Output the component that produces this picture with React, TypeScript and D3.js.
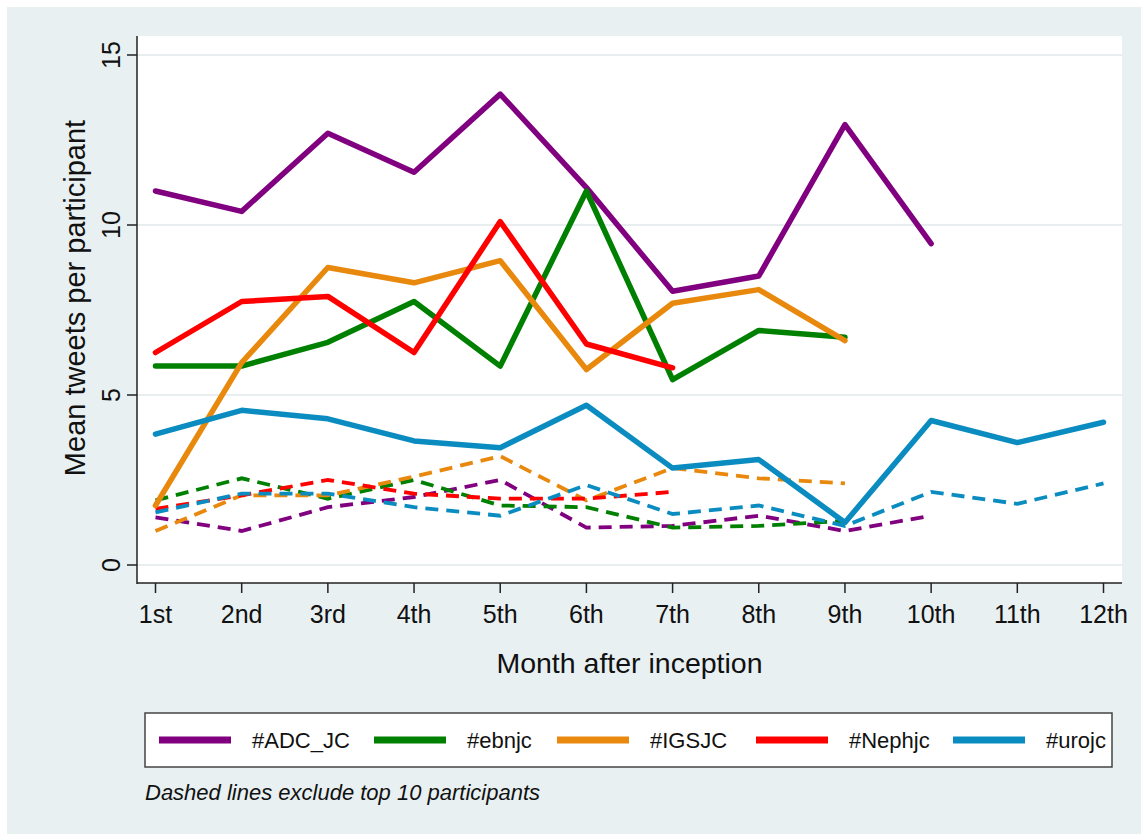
import React from "react";
import * as d3 from "d3";

// months after inception
const months = ["1st", "2nd", "3rd", "4th", "5th", "6th", "7th", "8th", "9th", "10th", "11th", "12th"];
const yTicks = [0, 5, 10, 15];

// solid lines: all participants
const adcSolid = [11.0, 10.4, 12.7, 11.55, 13.85, 11.1, 8.05, 8.5, 12.95, 9.45];
const ebnjcSolid = [5.85, 5.85, 6.55, 7.75, 5.85, 11.0, 5.45, 6.9, 6.7];
const igsjcSolid = [1.75, 5.95, 8.75, 8.3, 8.95, 5.75, 7.7, 8.1, 6.6];
const nephjcSolid = [6.25, 7.75, 7.9, 6.25, 10.1, 6.5, 5.8];
const urojcSolid = [3.85, 4.55, 4.3, 3.65, 3.45, 4.7, 2.85, 3.1, 1.25, 4.25, 3.6, 4.2];

// dashed lines: top 10 participants excluded
const adcDashed = [1.4, 1.0, 1.7, 2.0, 2.5, 1.1, 1.15, 1.45, 1.0, 1.45];
const ebnjcDashed = [1.9, 2.55, 1.95, 2.5, 1.75, 1.7, 1.1, 1.15, 1.3];
const igsjcDashed = [1.0, 2.05, 2.05, 2.6, 3.2, 1.9, 2.85, 2.55, 2.4];
const nephjcDashed = [1.65, 2.05, 2.5, 2.1, 1.95, 1.95, 2.15];
const urojcDashed = [1.55, 2.1, 2.1, 1.7, 1.45, 2.35, 1.5, 1.75, 1.15, 2.15, 1.8, 2.4];

const seriesNames = ["#ADC_JC", "#ebnjc", "#IGSJC", "#Nephjc", "#urojc"];
const colors = ["#800080", "#008000", "#e8890e", "#ff0000", "#0b8cc0"];
const solid = [adcSolid, ebnjcSolid, igsjcSolid, nephjcSolid, urojcSolid];
const dashed = [adcDashed, ebnjcDashed, igsjcDashed, nephjcDashed, urojcDashed];

const W = 1141;
const H = 834;
const plot = { left: 137, right: 1122, top: 36, bottom: 583 };
const font = "'Liberation Sans', Arial, Helvetica, sans-serif";

export default function App() {
  const x = d3.scaleLinear().domain([1, 12]).range([155.5, 1103.5]);
  const y = d3.scaleLinear().domain([0, 15]).range([565, 55]);

  const line = d3
    .line<number>()
    .x((_, i) => x(i + 1))
    .y((d) => y(d));

  // legend layout
  const legend = { x: 145, y: 713, w: 967, h: 54 };
  const legendLineX = [159, 374, 557, 756, 953];

  return (
    <svg
      width={W}
      height={H}
      viewBox={`0 0 ${W} ${H}`}
      style={{ position: "absolute", left: 0, top: 0, fontFamily: font }}
    >
      <rect x={0} y={0} width={W} height={H} fill="#ffffff" />
      <rect x={7} y={7} width={W - 7} height={H - 7} fill="#e8f0f2" />

      {/* plot region */}
      <rect
        x={plot.left}
        y={plot.top}
        width={plot.right - plot.left}
        height={plot.bottom - plot.top}
        fill="#ffffff"
      />
      {yTicks.map((t) => (
        <line
          key={"g" + t}
          x1={plot.left}
          x2={plot.right}
          y1={y(t)}
          y2={y(t)}
          stroke="#e8eef0"
          strokeWidth={2}
        />
      ))}

      {/* y axis */}
      <line x1={plot.left} x2={plot.left} y1={plot.top} y2={plot.bottom + 1} stroke="#222" strokeWidth={1.5} />
      {yTicks.map((t) => (
        <g key={"y" + t}>
          <line x1={plot.left - 10} x2={plot.left} y1={y(t)} y2={y(t)} stroke="#222" strokeWidth={1.5} />
          <text
            transform={`translate(120,${y(t)}) rotate(-90)`}
            textAnchor="middle"
            fontSize={25}
            fill="#111"
          >
            {t}
          </text>
        </g>
      ))}
      <text
        transform={`translate(85,${(112 + 484) / 2}) rotate(-90)`}
        textAnchor="middle"
        fontSize={29}
        fill="#111"
      >
        Mean tweets per participant
      </text>

      {/* x axis */}
      <line x1={plot.left} x2={plot.right} y1={plot.bottom} y2={plot.bottom} stroke="#222" strokeWidth={1.5} />
      {months.map((m, i) => (
        <g key={m}>
          <line x1={x(i + 1)} x2={x(i + 1)} y1={plot.bottom} y2={plot.bottom + 10} stroke="#222" strokeWidth={1.5} />
          <text x={x(i + 1)} y={623} textAnchor="middle" fontSize={25} fill="#111">
            {m}
          </text>
        </g>
      ))}
      <text x={(plot.left + plot.right) / 2} y={673} textAnchor="middle" fontSize={28.5} fill="#111">
        Month after inception
      </text>

      {/* series */}
      <g fill="none">
        {dashed.map((s, k) => (
          <path
            key={"d" + k}
            d={line(s) || ""}
            stroke={colors[k]}
            strokeWidth={3.8}
            strokeDasharray="13 8"
          />
        ))}
        {solid.map((s, k) => (
          <path
            key={"s" + k}
            d={line(s) || ""}
            stroke={colors[k]}
            strokeWidth={5.5}
            strokeLinejoin="round"
            strokeLinecap="round"
          />
        ))}
      </g>

      {/* legend */}
      <rect
        x={legend.x}
        y={legend.y}
        width={legend.w}
        height={legend.h}
        fill="#ffffff"
        stroke="#444"
        strokeWidth={1.5}
      />
      {seriesNames.map((n, k) => (
        <g key={n}>
          <line
            x1={legendLineX[k]}
            x2={legendLineX[k] + 72}
            y1={legend.y + legend.h / 2}
            y2={legend.y + legend.h / 2}
            stroke={colors[k]}
            strokeWidth={7}
          />
          <text x={legendLineX[k] + 93} y={legend.y + legend.h / 2 + 8} fontSize={22} fill="#111">
            {n}
          </text>
        </g>
      ))}
      <text x={145} y={800} fontSize={22} fontStyle="italic" fill="#111">
        Dashed lines exclude top 10 participants
      </text>
    </svg>
  );
}
